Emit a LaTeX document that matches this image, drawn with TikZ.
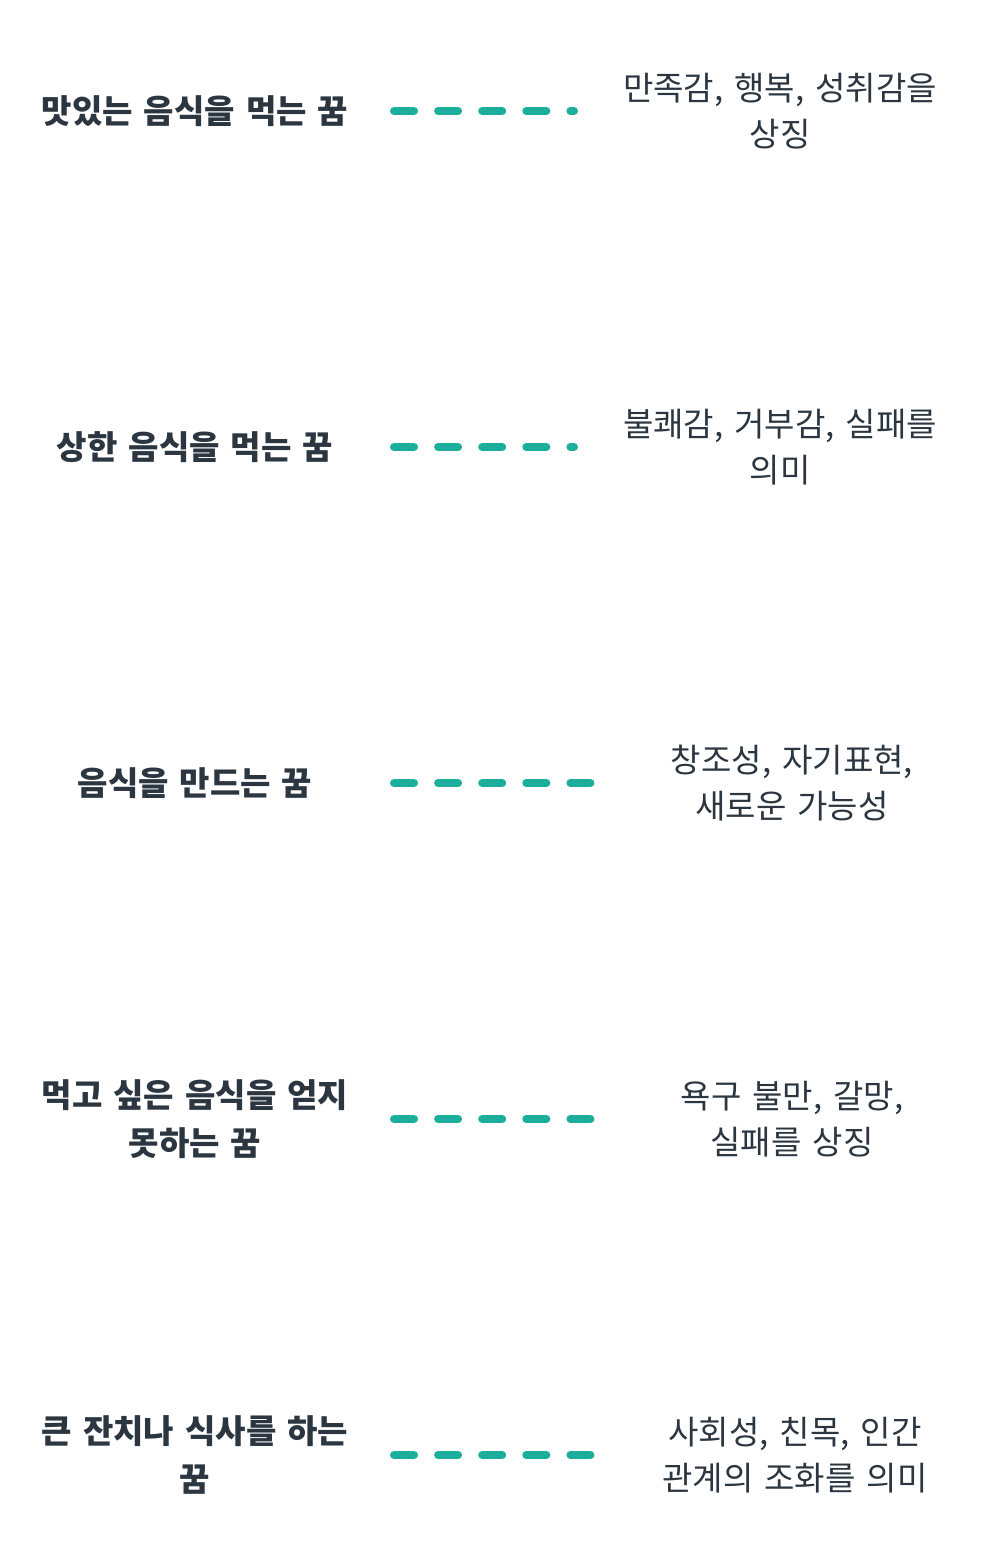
\documentclass[tikz,border=0pt]{standalone}
\usepackage{fontspec}
\setmainfont{Noto Sans CJK KR}
\usetikzlibrary{positioning}
\definecolor{linkteal}{HTML}{1BAE9B}
\definecolor{inkdark}{HTML}{2B3640}
\tikzset{
  dreamlbl/.style={font=\fontsize{18.8pt}{27pt}\selectfont\bfseries, text=inkdark, align=center, text width=7.4cm},
  meanlbl/.style={font=\fontsize{18.8pt}{26pt}\selectfont, text=inkdark, align=center, text width=7.2cm},
  linkline/.style={linkteal, line width=4.55pt, line cap=round, dash pattern=on 11.4pt off 13.7pt}
}
\begin{document}
\begin{tikzpicture}[x=0.02cm,y=-0.02cm]
  \useasboundingbox (0,0) rectangle (992,1568);

  % 1
  \node[dreamlbl] (d1) at (195,111) {맛있는 음식을 먹는 꿈};
  \node[meanlbl] (m1) at (780,111) {만족감, 행복, 성취감을\\상징};
  \coordinate (s1) at (394,111); \coordinate (e1) at (574,111);
  \draw[linkline] (s1) -- (e1);

  % 2
  \node[dreamlbl] (d2) at (195,447) {상한 음식을 먹는 꿈};
  \node[meanlbl] (m2) at (780,447) {불쾌감, 거부감, 실패를\\의미};
  \coordinate (s2) at (394,447); \coordinate (e2) at (574,447);
  \draw[linkline] (s2) -- (e2);

  % 3
  \node[dreamlbl] (d3) at (195,783) {음식을 만드는 꿈};
  \node[meanlbl] (m3) at (792,783) {창조성, 자기표현,\\새로운 가능성};
  \coordinate (s3) at (394,783); \coordinate (e3) at (591,783);
  \draw[linkline] (s3) -- (e3);

  % 4
  \node[dreamlbl] (d4) at (195,1119) {먹고 싶은 음식을 얻지\\못하는 꿈};
  \node[meanlbl] (m4) at (792,1119) {욕구 불만, 갈망,\\실패를 상징};
  \coordinate (s4) at (394,1119); \coordinate (e4) at (591,1119);
  \draw[linkline] (s4) -- (e4);

  % 5
  \node[dreamlbl] (d5) at (195,1455) {큰 잔치나 식사를 하는\\꿈};
  \node[meanlbl] (m5) at (795,1455) {사회성, 친목, 인간\\관계의 조화를 의미};
  \coordinate (s5) at (394,1455); \coordinate (e5) at (591,1455);
  \draw[linkline] (s5) -- (e5);

\end{tikzpicture}
\end{document}
